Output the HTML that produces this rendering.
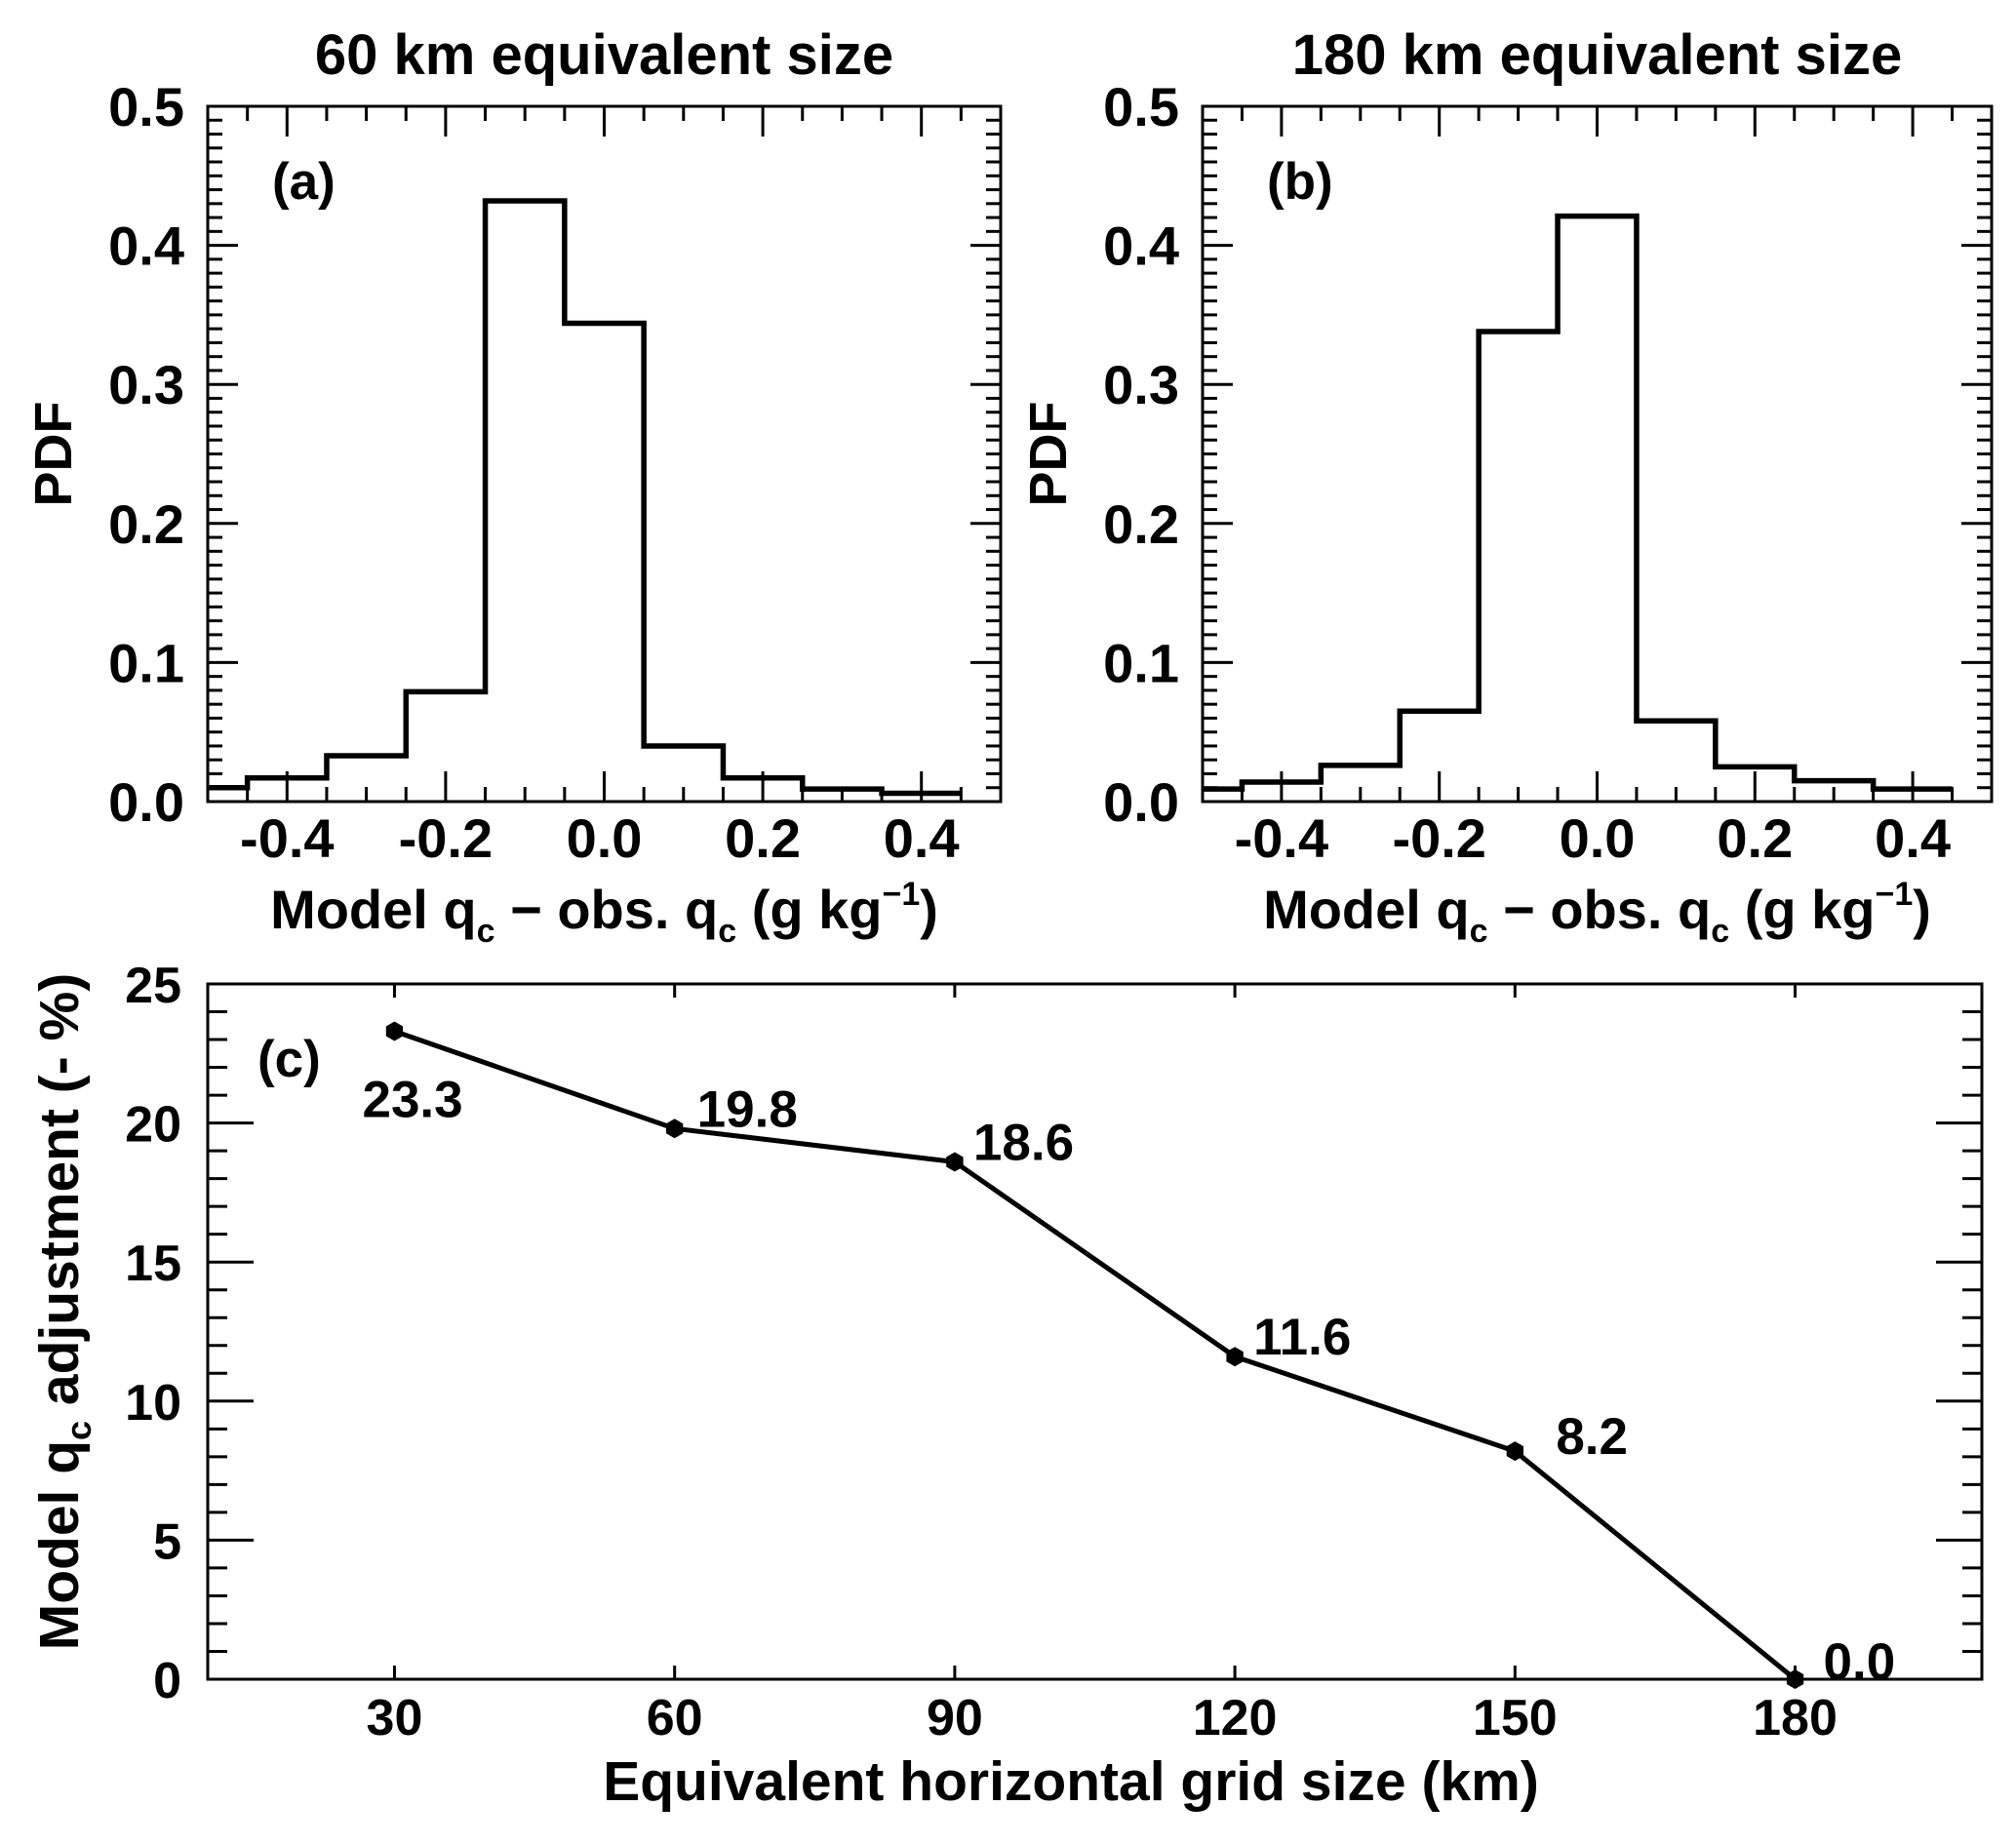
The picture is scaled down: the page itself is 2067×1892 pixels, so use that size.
<!DOCTYPE html>
<html><head><meta charset="utf-8"><style>
html,body{margin:0;padding:0;background:#fff}
svg{display:block}
text{font-family:"Liberation Sans",Arial,sans-serif;font-weight:bold;fill:#000}
</style></head><body>
<svg id="fig" width="2067" height="1892" viewBox="0 0 2067 1892" xmlns="http://www.w3.org/2000/svg"></svg>
<script>
// Panel (a) and (b) histogram data
const binEdgesA = [-0.5,-0.45,-0.35,-0.25,-0.15,-0.05,0.05,0.15,0.25,0.35,0.45];
const pdfA = [0.010,0.017,0.033,0.079,0.432,0.344,0.040,0.017,0.009,0.006];
const binEdgesB = [-0.5,-0.45,-0.35,-0.25,-0.15,-0.05,0.05,0.15,0.25,0.35,0.45];
const pdfB = [0.009,0.014,0.026,0.065,0.338,0.421,0.058,0.025,0.015,0.009];
const histXTicks = [-0.4,-0.2,0.0,0.2,0.4];
const histXTickLabels = ["-0.4","-0.2","0.0","0.2","0.4"];
const histYTicks = [0,0.1,0.2,0.3,0.4,0.5];
const histYTickLabels = ["0.0","0.1","0.2","0.3","0.4","0.5"];
// Panel (c) data
const gridSizes = [30,60,90,120,150,180];
const adjustments = [23.3,19.8,18.6,11.6,8.2,0.0];
const adjLabels = ["23.3","19.8","18.6","11.6","8.2","0.0"];
const cXTicks = [30,60,90,120,150,180];
const cXTickLabels = ["30","60","90","120","150","180"];
const cYTicks = [0,5,10,15,20,25];
const cYTickLabels = ["0","5","10","15","20","25"];

const NS="http://www.w3.org/2000/svg";
const svg=document.getElementById('fig');
function el(tag,attrs,parent){const e=document.createElementNS(NS,tag);for(const k in attrs)e.setAttribute(k,attrs[k]);(parent||svg).appendChild(e);return e;}
function txt(s,x,y,size,anchor,parent){const t=el('text',{x:x,y:y,'font-size':size,'text-anchor':anchor||'middle'},parent);t.textContent=s;return t;}

function histPanel(id,L,R,T,B,edges,vals,title,tag){
  const g=el('g',{});
  
  
  const xs=v=>L+(v+0.5)/1.0*(R-L);
  const ys=v=>B-v/0.5*(B-T);
  for(let i=0;i<=50;i++){const v=i*0.01;const y=ys(v);const len=(i%10===0)?31:15;
    el('line',{x1:L,y1:y,x2:L+len,y2:y,stroke:'#000','stroke-width':3},g);
    el('line',{x1:R,y1:y,x2:R-len,y2:y,stroke:'#000','stroke-width':3},g);}
  for(let i=-10;i<=10;i++){const v=i*0.05;const x=xs(v);const len=(i%4===0)?31:15;
    el('line',{x1:x,y1:B,x2:x,y2:B-len,stroke:'#000','stroke-width':3},g);
    el('line',{x1:x,y1:T,x2:x,y2:T+len,stroke:'#000','stroke-width':3},g);}
  const fr=el('rect',{x:L,y:T,width:R-L,height:B-T,fill:'none',stroke:'#000','stroke-width':3},g);
  
  
  let d='M'+xs(edges[0])+','+ys(vals[0]);
  for(let i=0;i<vals.length;i++){
    if(i>0)d+=' L'+xs(edges[i])+','+ys(vals[i]);
    d+=' L'+xs(edges[i+1])+','+ys(vals[i]);
  }
  const p=el('path',{d:d,fill:'none',stroke:'#000','stroke-width':5.5,'stroke-linejoin':'miter'},g);
  
  
  histYTicks.forEach((v,i)=>{const t=txt(histYTickLabels[i],L-24,ys(v)+20,56,'end',g);
    
    });
  histXTicks.forEach((v,i)=>{const t=txt(histXTickLabels[i],xs(v),879,56,'middle',g);
    
    });
  const tt=txt(title,(L+R)/2,76,58,'middle',g);
  
  
  const pl=txt(tag,L+66,204,53,'start',g);
  
  
  const yl=txt('PDF',0,0,54,'middle',g);
  yl.setAttribute('transform','translate('+(L-140)+','+((T+B)/2)+') rotate(-90)');
  
  
  const xl=el('text',{x:(L+R)/2,y:952,'font-size':56,'text-anchor':'middle'},g);
  
  
  xl.innerHTML='Model q<tspan font-size="34" dy="14">c</tspan><tspan dy="-14"> \u2212 obs. q</tspan><tspan font-size="34" dy="14">c</tspan><tspan dy="-14"> (g kg</tspan><tspan font-size="34" dy="-24">\u22121</tspan><tspan dy="24">)</tspan>';
}
histPanel('a',213,1026,109,822,binEdgesA,pdfA,'60 km equivalent size','(a)');
histPanel('b',1233,2042,109,822,binEdgesB,pdfB,'180 km equivalent size','(b)');

// Panel c
(function(){
  const L=213,R=2032,T=1009,B=1722;
  const g=el('g',{});
  
  
  const xs=v=>L+(v-10)/190*(R-L);
  const ys=v=>B-v/25*(B-T);
  for(let i=0;i<=25;i++){const y=ys(i);const len=(i%5===0)?47:20;
    el('line',{x1:L,y1:y,x2:L+len,y2:y,stroke:'#000','stroke-width':3},g);
    el('line',{x1:R,y1:y,x2:R-len,y2:y,stroke:'#000','stroke-width':3},g);}
  cXTicks.forEach(v=>{const x=xs(v);
    el('line',{x1:x,y1:B,x2:x,y2:B-14,stroke:'#000','stroke-width':3},g);
    el('line',{x1:x,y1:T,x2:x,y2:T+14,stroke:'#000','stroke-width':3},g);});
  const fr=el('rect',{x:L,y:T,width:R-L,height:B-T,fill:'none',stroke:'#000','stroke-width':3},g);
  
  
  const pts=gridSizes.map((v,i)=>xs(v)+','+ys(adjustments[i])).join(' ');
  const pl=el('polyline',{points:pts,fill:'none',stroke:'#000','stroke-width':5,'stroke-linejoin':'round'},g);
  
  
  const dxs=[-33,23,19,19,42,29], dys=[88,-2,-2,-2,3,0]; // label offsets (layout)
  gridSizes.forEach((v,i)=>{
    const cx=xs(v),cy=ys(adjustments[i]),r=10;let hp=[];
    for(let k=0;k<6;k++){const a=Math.PI/6+k*Math.PI/3;hp.push((cx+r*Math.cos(a)).toFixed(1)+','+(cy+r*Math.sin(a)).toFixed(1));}
    const m=el('polygon',{points:hp.join(' '),fill:'#000'},g);
    
    
    const t=txt(adjLabels[i],cx+dxs[i],cy+dys[i],53,'start',g);
    
    
  });
  cYTicks.forEach((v,i)=>{const t=txt(cYTickLabels[i],186,ys(v)+19,52,'end',g);
    
    });
  cXTicks.forEach((v,i)=>{const t=txt(cXTickLabels[i],xs(v),1779,52,'middle',g);
    
    });
  const lab=txt('(c)',264,1104,53,'start',g);
  
  
  const xl=txt('Equivalent horizontal grid size (km)',1098,1846,57,'middle',g);
  
  
  const yl=el('text',{x:0,y:0,'font-size':57,'text-anchor':'middle',transform:'translate(80,1345) rotate(-90)'},g);
  
  
  yl.innerHTML='Model q<tspan font-size="36" dy="13">c</tspan><tspan dy="-13"> adjustment (- %)</tspan>';
})();
</script>
</body></html>
